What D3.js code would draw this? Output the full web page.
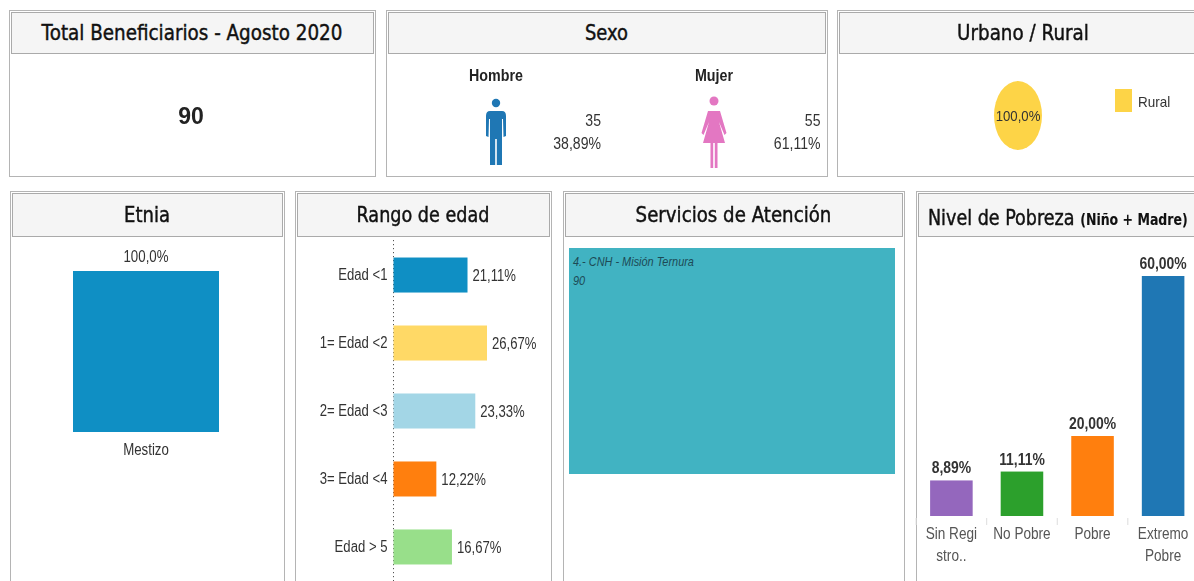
<!DOCTYPE html>
<html><head><meta charset="utf-8">
<script src="https://cdn.jsdelivr.net/npm/d3@7"></script>
<style>
html,body{margin:0;padding:0;background:#fff;overflow:hidden}
svg{display:block;filter:blur(0.35px)}
text{font-family:"Liberation Sans",Arial,sans-serif;fill:#333}
.title{font-family:"DejaVu Sans",sans-serif;fill:#111;stroke:#111;stroke-width:.45px}
</style></head><body>
<svg id="c" width="1194" height="581"></svg>
<script>
const totalTitle = "Total Beneficiarios - Agosto 2020";
const totalValue = 90;
const sexCategories = ["Hombre","Mujer"];
const sexCounts = [35,55];
const sexPercents = ["38,89%","61,11%"];
const areaCategories = ["Rural"];
const areaValues = [100];
const areaLabels = ["100,0%"];
const etniaCategories = ["Mestizo"];
const etniaValues = [100];
const etniaLabels = ["100,0%"];
const ageCategories = ["Edad <1","1= Edad <2","2= Edad <3","3= Edad <4","Edad > 5"];
const ageValues = [21.11,26.67,23.33,12.22,16.67];
const ageLabels = ["21,11%","26,67%","23,33%","12,22%","16,67%"];
const ageColors = ["#0f8fc4","#ffd966","#a3d6e6","#ff7f0e","#98df8a"];
const serviceNames = ["4.- CNH - Misión Ternura"];
const serviceValues = [90];
const povertyCategories = ["Sin Regi|stro..","No Pobre","Pobre","Extremo|Pobre"];
const povertyValues = [8.89,11.11,20,60];
const povertyLabels = ["8,89%","11,11%","20,00%","60,00%"];
const povertyColors = ["#9467bd","#2ca02c","#ff7f0e","#1f77b4"];

const svg = d3.select("#c");
function squeezeTo(t,x,target){
  const k = target/t.node().getComputedTextLength();
  t.attr("transform",`translate(${x},0) scale(${k},1) translate(${-x},0)`);
}
function panel(x,y,w,h,hh,title,tw){
  svg.append("rect").attr("x",x+.5).attr("y",y+.5).attr("width",w).attr("height",h)
    .attr("fill","#fff").attr("stroke","#b4b4b4");
  svg.append("rect").attr("x",x+2.5).attr("y",y+2.5).attr("width",w-4).attr("height",hh)
    .attr("fill","#f5f5f5").attr("stroke","#aaa");
  if(title){
    const cx = x+w/2;
    const t = svg.append("text").attr("class","title").attr("x",cx).attr("y",y+2+hh/2+7.5)
      .attr("text-anchor","middle").attr("font-size",21).text(title);
    squeezeTo(t,cx,tw);
  }
}
panel(9,10,366,166,41,totalTitle,301);
panel(386,10,441,166,41,"Sexo",43);
panel(837,10,372,166,41,"Urbano / Rural",132);
panel(10,191,274,400,43,"Etnia",46);
panel(295,191,256,400,43,"Rango de edad",133);
panel(563,191,341,400,43,"Servicios de Atención",196);
panel(916,191,290,400,43,"",0);
const nt = svg.append("text").attr("class","title").attr("x",928).attr("y",225).attr("font-size",21).text("Nivel de Pobreza ");
nt.append("tspan").attr("font-size",15).attr("font-weight",700).style("stroke-width",".1px").text("(Niño + Madre)");
squeezeTo(nt,928,260);

const small = [];   // texts condensed after drawing
function note(sel,k){ sel.each(function(){small.push([this,k]);}); return sel; }

// total
svg.append("text").attr("x",191).attr("y",124).attr("text-anchor","middle")
  .attr("font-size",23).attr("font-weight",700).style("fill","#222").text(totalValue);

// sexo
const sexX = d3.scalePoint().domain(sexCategories).range([496,714]);
const sexColor = d3.scaleOrdinal().domain(sexCategories).range(["#1f77b4","#e377c2"]);
sexCategories.forEach((s,i)=>{
  const cx = sexX(s), g = svg.append("g").attr("transform",`translate(${cx},0)`), col = sexColor(s);
  note(g.append("text").attr("x",0).attr("y",81).attr("text-anchor","middle").attr("font-size",17)
    .attr("font-weight",700).style("fill","#222").text(s),.84);
  if(i===0){
    g.append("circle").attr("cy",103).attr("r",4.2).attr("fill",col);
    g.append("path").attr("fill",col).attr("d","M-10,116 Q-10,111 -6,111 L6,111 Q10,111 10,116 L10,136 L7.5,137 L7,119 L6,119 L6,165 L0.8,165 L0.8,139 L-0.8,139 L-0.8,165 L-6,165 L-6,119 L-7,119 L-7.5,137 L-10,136 Z");
  } else {
    g.append("circle").attr("cy",101).attr("r",4.5).attr("fill",col);
    g.append("path").attr("fill",col).attr("d","M-6,111 L6,111 L12.5,133 L10.5,135 L5,122 L11,143 L3.5,143 L3.5,168 L0.8,168 L0.8,143 L-0.8,143 L-0.8,168 L-3.5,168 L-3.5,143 L-11,143 L-5,122 L-10.5,135 L-12.5,133 Z");
  }
  const tx = i===0?105:106.5;
  note(g.append("text").attr("x",tx).attr("y",126).attr("text-anchor","end").attr("font-size",16).text(sexCounts[i]),.88);
  note(g.append("text").attr("x",tx).attr("y",149).attr("text-anchor","end").attr("font-size",16).text(sexPercents[i]),.88);
});

// urbano/rural pie (stretched vertically as in the picture)
const pieG = svg.append("g").attr("transform","translate(1018,115.5) scale(24,34.5)");
pieG.selectAll("path").data(d3.pie().sort(null)(areaValues)).join("path")
  .attr("d",d3.arc().innerRadius(0).outerRadius(1)).attr("fill","#fdd447");
note(svg.append("text").attr("x",1018).attr("y",121).attr("text-anchor","middle").attr("font-size",15).text(areaLabels[0]),.88);
svg.append("rect").attr("x",1115).attr("y",89).attr("width",17).attr("height",23).attr("fill","#fdd447");
note(svg.append("text").attr("x",1138).attr("y",107).attr("font-size",15).text(areaCategories[0]),.9);

// etnia
const etX = d3.scaleBand().domain(etniaCategories).range([73,219]);
const etY = d3.scaleLinear().domain([0,100]).range([432,271]);
svg.selectAll(".et").data(etniaValues).join("rect").attr("class","et")
  .attr("x",(d,i)=>etX(etniaCategories[i])).attr("width",etX.bandwidth())
  .attr("y",d=>etY(d)).attr("height",d=>etY(0)-etY(d)).attr("fill","#0f8fc4");
note(svg.append("text").attr("x",146).attr("y",262).attr("text-anchor","middle").attr("font-size",16).text(etniaLabels[0]),.83);
note(svg.append("text").attr("x",146).attr("y",455).attr("text-anchor","middle").attr("font-size",16).text(etniaCategories[0]),.83);

// rango de edad
const aX = d3.scaleLinear().domain([0,26.67]).range([393.5,487]);
const aY = d3.scaleBand().domain(ageCategories).range([241,581]).paddingInner(0.485).paddingOuter(0.243);
const aAxis = svg.append("g").attr("transform","translate(393.5,0)")
  .call(d3.axisLeft(aY).tickSize(0).tickPadding(6));
aAxis.select(".domain").remove();
note(aAxis.selectAll("text").attr("font-size",16).attr("font-family",null).style("fill","#333"),.82);
svg.append("line").attr("x1",393.5).attr("x2",393.5).attr("y1",240).attr("y2",581)
  .attr("stroke","#555").attr("stroke-dasharray","1.2,2.8");
svg.selectAll(".ab").data(ageValues).join("rect").attr("class","ab")
  .attr("x",aX(0)).attr("y",(d,i)=>aY(ageCategories[i])).attr("width",d=>aX(d)-aX(0))
  .attr("height",aY.bandwidth()).attr("fill",(d,i)=>ageColors[i]);
note(svg.selectAll(".al").data(ageValues).join("text").attr("class","al")
  .attr("x",d=>aX(d)+5).attr("y",(d,i)=>aY(ageCategories[i])+aY.bandwidth()/2+6)
  .attr("font-size",16).text((d,i)=>ageLabels[i]),.82);

// servicios treemap
const root = d3.hierarchy({children:serviceNames.map((n,i)=>({name:n,value:serviceValues[i]}))}).sum(d=>d.value);
d3.treemap().size([326,226])(root);
const sG = svg.append("g").attr("transform","translate(569,248)");
sG.selectAll("rect").data(root.leaves()).join("rect")
  .attr("x",d=>d.x0).attr("y",d=>d.y0).attr("width",d=>d.x1-d.x0).attr("height",d=>d.y1-d.y0).attr("fill","#41b3c2");
root.leaves().forEach(d=>{
  note(sG.append("text").attr("x",d.x0+4).attr("y",d.y0+18).attr("font-size",12).attr("font-style","italic").style("fill","#1d4a55").text(d.data.name),.91);
  note(sG.append("text").attr("x",d.x0+4).attr("y",d.y0+37).attr("font-size",12).attr("font-style","italic").style("fill","#1d4a55").text(d.data.value),.91);
});

// nivel de pobreza
const pX = d3.scaleBand().domain(povertyCategories).range([916,1198.5]).paddingInner(0.397).paddingOuter(0.2);
const pY = d3.scaleLinear().domain([0,60]).range([516,276]);
svg.selectAll(".pb").data(povertyValues).join("rect").attr("class","pb")
  .attr("x",(d,i)=>pX(povertyCategories[i])).attr("width",pX.bandwidth())
  .attr("y",d=>pY(d)).attr("height",d=>pY(0)-pY(d)).attr("fill",(d,i)=>povertyColors[i]);
note(svg.selectAll(".pl").data(povertyValues).join("text").attr("class","pl")
  .attr("x",(d,i)=>pX(povertyCategories[i])+pX.bandwidth()/2).attr("y",d=>pY(d)-7)
  .attr("text-anchor","middle").attr("font-size",16).attr("font-weight",700).text((d,i)=>povertyLabels[i]),.87);
svg.selectAll(".pt").data(povertyCategories).join("line").attr("class","pt")
  .attr("x1",d=>pX(d)-pX.step()*pX.paddingInner()/2).attr("x2",d=>pX(d)-pX.step()*pX.paddingInner()/2)
  .attr("y1",518).attr("y2",525).attr("stroke","#ddd");
const pAxis = svg.append("g").attr("transform","translate(0,516)")
  .call(d3.axisBottom(pX).tickSize(0).tickPadding(0));
pAxis.select(".domain").remove();
pAxis.selectAll("text").each(function(d){
  const t = d3.select(this).text("").attr("font-size",16).attr("font-family",null).attr("y",null).attr("dy",null).style("fill","#555");
  d.split("|").forEach((s,i)=>t.append("tspan").attr("x",0).attr("y",23+i*22).text(s));
  note(t,.85);
});

small.forEach(([el,k])=>{
  const x = +el.getAttribute("x")||0;
  el.setAttribute("transform",`translate(${x},0) scale(${k},1) translate(${-x},0)`);
});
</script></body></html>
